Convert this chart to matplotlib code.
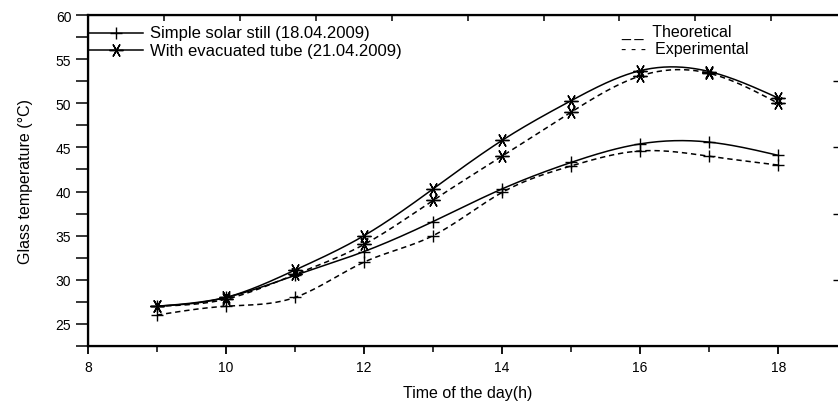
import numpy as np
import matplotlib.pyplot as plt
from matplotlib.ticker import MultipleLocator

# ========== data ==========
hours = [9, 10, 11, 12, 13, 14, 15, 16, 17, 18]

simple_theo = [27.0, 28.0, 30.5, 33.2, 36.6, 40.3, 43.3, 45.4, 45.6, 44.1]
simple_exp = [26.0, 27.0, 28.0, 32.0, 35.0, 39.9, 42.9, 44.6, 44.0, 43.0]
tube_theo = [27.0, 28.0, 31.1, 35.0, 40.3, 45.8, 50.3, 53.7, 53.6, 50.6]
tube_exp = [27.0, 27.8, 30.6, 34.0, 39.0, 44.0, 49.0, 53.1, 53.4, 50.0]

legend_simple = 'Simple solar still (18.04.2009)'
legend_tube = 'With evacuated tube (21.04.2009)'


def smooth(x, y, n=300):
    """natural cubic spline through the points (line only, markers stay on data)"""
    x = np.asarray(x, float)
    y = np.asarray(y, float)
    k = len(x)
    h = np.diff(x)
    A = np.zeros((k, k))
    b = np.zeros(k)
    A[0, 0] = A[-1, -1] = 1
    for i in range(1, k - 1):
        A[i, i - 1] = h[i - 1]
        A[i, i] = 2 * (h[i - 1] + h[i])
        A[i, i + 1] = h[i]
        b[i] = 3 * ((y[i + 1] - y[i]) / h[i] - (y[i] - y[i - 1]) / h[i - 1])
    c = np.linalg.solve(A, b)
    xs = np.linspace(x[0], x[-1], n)
    idx = np.clip(np.searchsorted(x, xs) - 1, 0, k - 2)
    dx = xs - x[idx]
    bb = (y[idx + 1] - y[idx]) / h[idx] - h[idx] * (2 * c[idx] + c[idx + 1]) / 3
    dd = (c[idx + 1] - c[idx]) / (3 * h[idx])
    ys = y[idx] + bb * dx + c[idx] * dx ** 2 + dd * dx ** 3
    return xs, ys


plt.rcParams['font.family'] = ['Liberation Sans', 'DejaVu Sans']

fig = plt.figure(figsize=(8.38, 4.02), dpi=100)
ax = fig.add_axes([0.105, 0.137, 0.906, 0.823])

asterisk = (6, 2, 90)
series = [
    (simple_theo, '-', '+', 9),
    (simple_exp, (0, (3.5, 2.5)), '+', 9),
    (tube_theo, '-', asterisk, 10),
    (tube_exp, (0, (3.5, 2.5)), asterisk, 10),
]
for vals, ls, mk, ms in series:
    xs, ys = smooth(hours, vals)
    ax.plot(xs, ys, color='black', linestyle=ls, linewidth=1.1)
    ax.plot(hours, vals, linestyle='none', marker=mk, markersize=ms,
            markeredgewidth=1.0, color='black')

ax.set_xlim(8, 19)
ax.set_ylim(22.5, 60)
ax.xaxis.set_major_locator(MultipleLocator(2))
ax.xaxis.set_minor_locator(MultipleLocator(1))
ax.yaxis.set_major_locator(MultipleLocator(5))
ax.yaxis.set_minor_locator(MultipleLocator(2.5))
ax.tick_params(axis='x', which='major', direction='out', length=6, width=1.3,
               labelsize=10, pad=4)
ax.tick_params(axis='x', which='minor', direction='out', length=4, width=1.1)
ax.tick_params(axis='y', which='both', direction='out', length=9, width=1.1,
               labelsize=10, pad=3)
for s in ax.spines.values():
    s.set_linewidth(1.6)

# top and right ticks of the frame
top = ax.twiny()
top.set_xlim(8, 19)
top.set_xticks(np.linspace(8, 19, 11))
top.tick_params(axis='x', direction='in', length=4, width=1.1, labeltop=False)
right = ax.twinx()
right.set_ylim(22.5, 60)
right.set_yticks(np.linspace(22.5, 60, 6)[1:-1])
right.tick_params(axis='y', direction='in', length=10, width=1.0, labelright=False)

ax.set_xlabel('Time of the day(h)', fontsize=11.5, labelpad=8)
ax.set_ylabel('Glass temperature (°C)', fontsize=11.5, labelpad=16)

# hand-drawn legend, top left
for yv, mk, ms, txt in [(58.0, '+', 9, legend_simple), (56.0, asterisk, 10, legend_tube)]:
    ax.plot([8.0, 8.8], [yv, yv], color='black', linewidth=1.1, clip_on=False)
    ax.plot([8.4], [yv], marker=mk, markersize=ms, color='black', markeredgewidth=1.0)
    ax.text(8.9, yv, txt, fontsize=12, va='center', ha='left')

ax.text(15.72, 58.2, '_ _  Theoretical', fontsize=11.5, va='center', ha='left')
ax.text(15.72, 56.2, '- - -  Experimental', fontsize=11.5, va='center', ha='left')

fig.savefig('out.png', dpi=100)
